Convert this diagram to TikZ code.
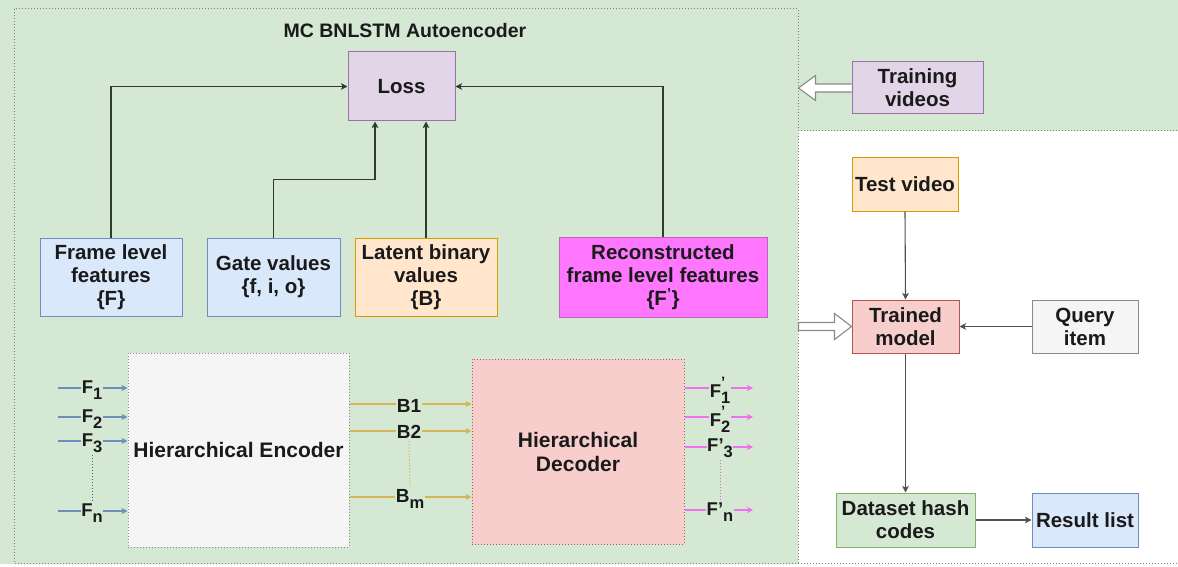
\documentclass[tikz,border=0pt]{standalone}
\usepackage{fontspec}
\setmainfont{Liberation Sans}
\usetikzlibrary{arrows.meta,calc}

\definecolor{bggreen}{HTML}{D5E8D4}
\definecolor{txt}{HTML}{1A1A1A}
\definecolor{frameln}{HTML}{808080}
\definecolor{conncol}{HTML}{2F3A30}
\definecolor{sideconn}{HTML}{505050}
\definecolor{lilacF}{HTML}{E1D5E7}\definecolor{lilacD}{HTML}{9673A6}
\definecolor{blueF}{HTML}{DAE8FC}\definecolor{blueD}{HTML}{6C8EBF}
\definecolor{orangeF}{HTML}{FFE6CC}\definecolor{orangeD}{HTML}{D79B00}
\definecolor{redF}{HTML}{F8CECC}\definecolor{redD}{HTML}{B85450}
\definecolor{greyF}{HTML}{F5F5F5}\definecolor{greyD}{HTML}{8A8A8A}
\definecolor{greenD}{HTML}{82B366}
\definecolor{magF}{HTML}{FF77FF}\definecolor{magD}{HTML}{C060C0}
\definecolor{goldD}{HTML}{D6B656}
\definecolor{pinkD}{HTML}{F070F0}

\newcommand\boxfont{\bfseries\fontsize{20.5}{23}\selectfont}
\newcommand\labfont{\bfseries\fontsize{18.5}{20}\selectfont}
\newcommand\fsub[1]{\raisebox{-0.3em}{\fontsize{16.5}{17}\selectfont #1}}
\newcommand\fprime{\rlap{\raisebox{0.55em}{\fontsize{15}{15}\selectfont ’}}}

\begin{document}
\begin{tikzpicture}[x=1pt,y=-1pt,
  box/.style={draw, line width=1pt, inner sep=1pt, align=center,
    font=\boxfont, text=txt},
  lab/.style={fill=bggreen, inner sep=0.6pt, font=\labfont, text=txt},
  conn/.style={draw=conncol, line width=1.2pt,
    -{Stealth[length=6.5pt,width=6.5pt,inset=1.5pt]}},
  side conn/.style={draw=sideconn, line width=1.1pt,
    -{Stealth[length=6.5pt,width=6.5pt,inset=1.5pt]}},
  thin conn/.style={draw=#1, line width=1.1pt,
    -{Stealth[length=6pt,width=6pt,inset=1.5pt]}},
  dotline/.style={draw=#1, line width=1pt, dash pattern=on 1.2pt off 1.8pt},
  hollow/.style={draw=greyD, line width=1.1pt, fill=white, line join=miter}]

\useasboundingbox (0,0) rectangle (1178,567);

% green backdrop of the training part
\fill[bggreen] (0,0) -- (1178,0) -- (1178,131) -- (798,131) -- (798,564)
  -- (0,564) -- cycle;

% dotted frames
\draw[dotline=frameln] (14,9) rectangle (798,563);
\draw[dotline=frameln] (798,131) -- (1178,131);
\draw[dotline=frameln] (798,563) -- (1178,563);

\node[font=\bfseries\fontsize{19.5}{22}\selectfont, text=txt] (title)
  at (405,31) {MC BNLSTM Autoencoder};

% loss and its inputs
\node[box, fill=lilacF, draw=lilacD, minimum width=107pt, minimum height=69pt]
  (loss) at (401.5,86.5) {Loss};
\node[box, fill=blueF, draw=blueD, minimum width=142pt, minimum height=78pt]
  (frame) at (111,277) {Frame level\\features\\\{F\}};
\node[box, fill=blueF, draw=blueD, minimum width=133pt, minimum height=78pt]
  (gate) at (273.5,277) {Gate values\\\{f, i, o\}};
\node[box, fill=orangeF, draw=orangeD, minimum width=142pt, minimum height=78pt]
  (latent) at (426,277) {Latent binary\\values\\\{B\}};
\node[box, fill=magF, draw=magD, minimum width=208pt, minimum height=80pt]
  (recon) at (663,277.5) {Reconstructed\\frame level features\\\{F\textsuperscript{’}\}};

\draw[conn] (frame.north) |- (loss.west);
\draw[conn] (gate.north) -- ++(0,-58) -| ([xshift=-26.5pt]loss.south);
\draw[conn] (latent.north) -- (latent.north |- loss.south);
\draw[conn] (recon.north) |- (loss.east);

% encoder / decoder
\node[box, fill=greyF, draw=greyD, dash pattern=on 1.2pt off 1.8pt,
  minimum width=221pt, minimum height=194pt, font=\bfseries\fontsize{21}{24}\selectfont]
  (enc) at (238.5,450) {Hierarchical Encoder};
\node[box, fill=redF, draw=redD, dash pattern=on 1.2pt off 1.8pt,
  minimum width=212pt, minimum height=185pt, font=\bfseries\fontsize{21}{24}\selectfont]
  (dec) at (578,451.5) {Hierarchical\\Decoder};

% frame level inputs
\coordinate (i1) at (58,388);
\coordinate (i2) at (58,417);
\coordinate (i3) at (58,441);
\coordinate (in) at (58,511);
\foreach \c in {i1,i2,i3,in}
  \draw[thin conn=blueD] (\c) -- (\c -| enc.west);
\node[lab] (f1) at (92,390) {F\fsub{1}};
\node[lab] (f2) at (92,419) {F\fsub{2}};
\node[lab] (f3) at (92,443) {F\fsub{3}};
\node[lab] (fn) at (92,513) {F\fsub{n}};
\draw[dotline=blueD!70!black] ([yshift=-2pt]f3.south) -- ([yshift=2pt]fn.north);

% binary codes
\coordinate (b1) at (enc.east |- 0,404);
\coordinate (b2) at (enc.east |- 0,431);
\coordinate (bm) at (enc.east |- 0,497);
\foreach \c in {b1,b2,bm}
  \draw[thin conn=goldD] (\c) -- (\c -| dec.west);
\node[lab, font=\bfseries\fontsize{19}{20}\selectfont] (B1) at (409,406) {B1};
\node[lab, font=\bfseries\fontsize{19}{20}\selectfont] (B2) at (409,432) {B2};
\node[lab, font=\bfseries\fontsize{19}{20}\selectfont] (Bm) at (410,499) {B\fsub{m}};
\draw[dotline=goldD] ([yshift=-2pt]B2.south) -- ([yshift=2pt]Bm.north);

% reconstructed outputs
\coordinate (o1) at (753,388);
\coordinate (o2) at (753,417);
\coordinate (o3) at (753,447);
\coordinate (on) at (753,510);
\foreach \c in {o1,o2,o3,on}
  \draw[thin conn=pinkD] (\c -| dec.east) -- (\c);
\node[lab] (g1) at (720,390) {F\fprime\fsub{1}};
\node[lab] (g2) at (720,419) {F\fprime\fsub{2}};
\node[lab] (g3) at (720,448) {F’\fsub{3}};
\node[lab] (gn) at (720,512) {F’\fsub{n}};
\draw[dotline=pinkD!60!gray] ([yshift=-2pt]g3.south) -- ([yshift=2pt]gn.north);

% retrieval side
\node[box, fill=lilacF, draw=lilacD, minimum width=131pt, minimum height=52pt]
  (train) at (917.5,88) {Training\\videos};
\node[box, fill=orangeF, draw=orangeD, minimum width=106pt, minimum height=53pt]
  (test) at (905,184.5) {Test video};
\node[box, fill=redF, draw=redD, minimum width=107pt, minimum height=53pt]
  (trained) at (905.5,326.5) {Trained\\model};
\node[box, fill=greyF, draw=greyD, minimum width=106pt, minimum height=53pt]
  (query) at (1085,326.5) {Query\\item};
\node[box, fill=bggreen, draw=greenD, minimum width=139pt, minimum height=54pt]
  (dataset) at (905.5,520) {Dataset hash\\codes};
\node[box, fill=blueF, draw=blueD, minimum width=106pt, minimum height=54pt]
  (result) at (1085,520) {Result list};

\draw[side conn] (test.south) -- (trained.north);
\draw[side conn] (query.west) -- (trained.east);
\draw[side conn] (trained.south) -- (dataset.north);
\draw[side conn] (dataset.east) -- (result.west);

% hollow arrows between the two parts
\filldraw[hollow] ($(train.west)+(0,-4)$) -- ++(-36,0) -- ++(0,-8.5)
  -- ++(-17,12.5) -- ++(17,12.5) -- ++(0,-8.5) -- ++(36,0);
\filldraw[hollow] ($(trained.west)+(-53,-4)$) -- ++(36,0) -- ++(0,-9)
  -- ++(17,13) -- ++(-17,13) -- ++(0,-9) -- ++(-36,0) -- cycle;

\end{tikzpicture}
\end{document}
